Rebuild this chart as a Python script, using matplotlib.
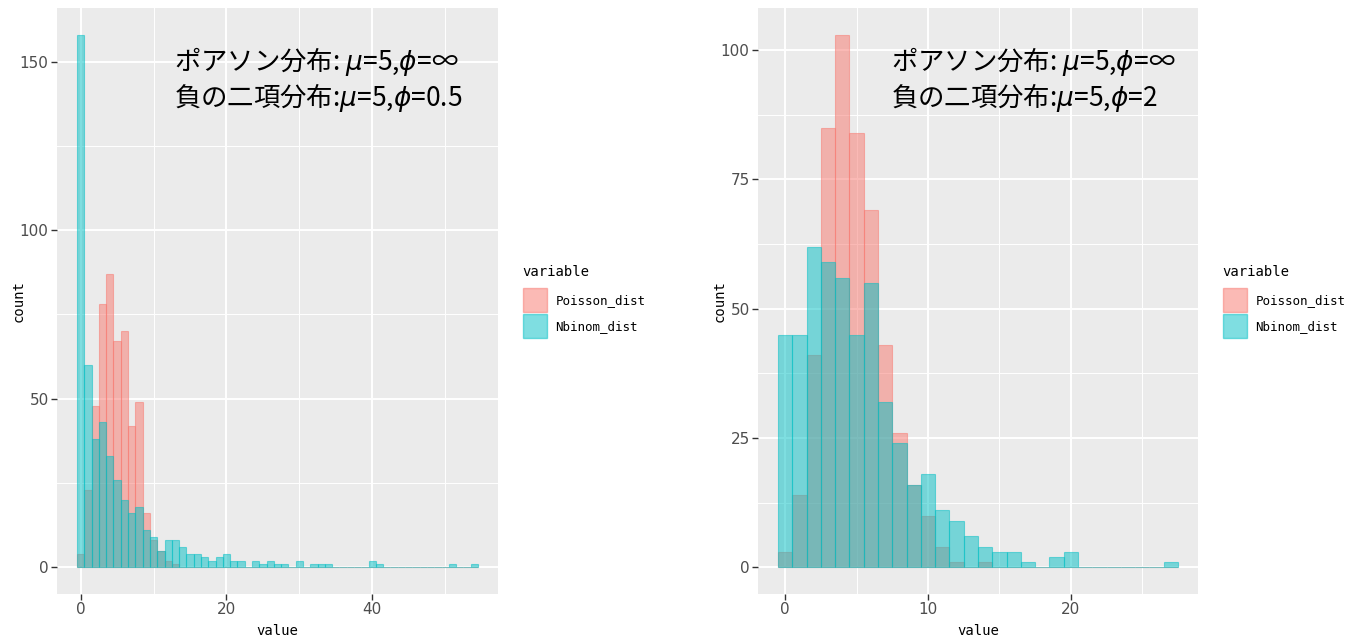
import numpy as np
import matplotlib.pyplot as plt
from matplotlib.patches import Patch
from matplotlib.ticker import MultipleLocator

plt.rcParams['font.family'] = ['Liberation Sans Narrow', 'DejaVu Sans']
plt.rcParams['mathtext.fontset'] = 'dejavusans'

# histogram counts (binwidth 1, bins centred on integers)
left_bins = np.arange(0, 55)
left_pois = [4, 23, 48, 78, 87, 67, 70, 42, 49, 16, 8, 5, 2, 1] + [0] * 41
left_nbinom = [158, 60, 38, 43, 33, 26, 20, 16, 18, 11, 9, 5, 8, 8, 6, 4, 4, 3, 2, 3,
               4, 2, 2, 0, 2, 1, 2, 1, 1, 0, 2, 0, 1, 1, 1, 0, 0, 0, 0, 0,
               2, 1, 0, 0, 0, 0, 0, 0, 0, 0, 0, 1, 0, 0, 1]

right_bins = np.arange(0, 28)
right_pois = [3, 14, 41, 85, 103, 84, 69, 43, 26, 16, 10, 4, 1, 0, 1] + [0] * 13
right_nbinom = [45, 45, 62, 59, 56, 45, 55, 32, 24, 16, 18, 11, 9, 6, 4, 3, 3, 1, 0, 2,
                3, 0, 0, 0, 0, 0, 0, 1]

series_names = ["Poisson_dist", "Nbinom_dist"]
series_colors = ["#F8766D", "#00BFC4"]

left_text = [r"ポアソン分布: $\mu$=5,$\phi$=∞", r"負の二項分布:$\mu$=5,$\phi$=0.5"]
right_text = [r"ポアソン分布: $\mu$=5,$\phi$=∞", r"負の二項分布:$\mu$=5,$\phi$=2"]

W, H = 1353, 641
fig = plt.figure(figsize=(W / 100, H / 100), dpi=100)


def draw_panel(ax, bins, pois, nbinom, xmajor, ymajor, ann_x, ann, legend_x):
    ax.set_facecolor('#EBEBEB')
    for s in ax.spines.values():
        s.set_visible(False)

    for vals, name, col in zip([pois, nbinom], series_names, series_colors):
        ax.bar(bins, vals, width=1.0, color=col, alpha=0.5,
               edgecolor=col, linewidth=0.8, label=name, zorder=2)

    lo, hi = bins[0] - 0.5, bins[-1] + 0.5
    pad = (hi - lo) * 0.05
    ax.set_xlim(lo - pad, hi + pad)
    ymax = max(max(pois), max(nbinom))
    ax.set_ylim(-ymax * 0.05, ymax * 1.05)

    ax.xaxis.set_major_locator(MultipleLocator(xmajor))
    ax.xaxis.set_minor_locator(MultipleLocator(xmajor / 2))
    ax.yaxis.set_major_locator(MultipleLocator(ymajor))
    ax.yaxis.set_minor_locator(MultipleLocator(ymajor / 2))
    ax.grid(which='major', color='white', linewidth=1.4, zorder=0)
    ax.grid(which='minor', color='white', linewidth=0.7, zorder=0)
    ax.set_axisbelow(True)
    ax.tick_params(which='major', length=4, width=1, color='#333333',
                   labelcolor='#4D4D4D', labelsize=11, pad=2)
    ax.tick_params(which='minor', length=0)

    ax.set_xlabel('value', family='DejaVu Sans Mono', fontsize=10)
    ax.set_ylabel('count', family='DejaVu Sans Mono', fontsize=10)
    ax.xaxis.set_label_coords(0.5, -0.052)
    ax.yaxis.set_label_coords(-0.072, 0.5)

    cjk = ['Noto Sans CJK JP', 'DejaVu Sans']
    ax.text(ann_x, 0.908, ann[0], transform=ax.transAxes, fontsize=19,
            va='center', ha='left', family=cjk)
    ax.text(ann_x, 0.848, ann[1], transform=ax.transAxes, fontsize=19,
            va='center', ha='left', family=cjk)

    # legend: title as its own text, keys below it
    fig.text(legend_x / W, 1 - 272 / H, 'variable', family='DejaVu Sans Mono',
             fontsize=10, va='center', ha='left')
    handles = [Patch(facecolor=c, alpha=0.5, edgecolor=c) for c in series_colors]
    ax.legend(handles, series_names, loc='upper left',
              bbox_to_anchor=((legend_x + 1) / W, 1 - 288 / H), bbox_transform=fig.transFigure,
              frameon=False, borderpad=0, borderaxespad=0, handlelength=1.9,
              handleheight=2.58, labelspacing=0.15, handletextpad=0.7,
              prop={'family': 'DejaVu Sans Mono', 'size': 9})


ax1 = fig.add_axes([57 / W, 1 - 594 / H, 441 / W, 586 / H])
ax2 = fig.add_axes([758 / W, 1 - 594 / H, 440 / W, 586 / H])

draw_panel(ax1, left_bins, left_pois, left_nbinom, 20, 50, 0.265, left_text, 522)
draw_panel(ax2, right_bins, right_pois, right_nbinom, 10, 25, 0.302, right_text, 1222)

fig.savefig('out.png', dpi=100)
